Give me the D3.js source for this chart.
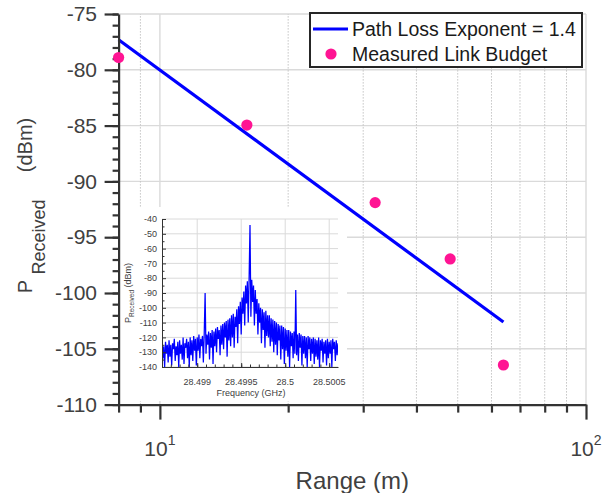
<!DOCTYPE html>
<html>
<head>
<meta charset="utf-8">
<script src="https://cdn.jsdelivr.net/npm/d3@7"></script>
<style>
  body { margin: 0; background: #fff; }
  text { font-family: "Liberation Sans", Arial, sans-serif; }
</style>
</head>
<body>
<div id="container"></div>
<script>
/* DATA */
const range = [8, 16, 32, 48, 64];                       // m
const measured = [-78.9, -84.95, -91.9, -96.95, -106.45]; // dBm
const fitRange = [8, 64];
const fitPower = [-77.3, -102.6];
const yTicks = [-110, -105, -100, -95, -90, -85, -80, -75];
const xTicks = [10, 100];
const xTickExp = ["1", "2"];
const xMinor = [8, 9, 20, 30, 40, 50, 60, 70, 80, 90];

// inset: spectrum around the carrier, one value per 10 kHz bin
const freqStart = 28.4986;
const freqStep = 0.00001;
const spectrum = [
  -124,-134,-126,-140,-123,-131,-125,-137,-122,-133,
  -125,-139,-124,-128,-121,-136,-126,-132,-123,-140,
  -122,-131,-125,-135,-120,-138,-124,-127,-121,-134,
  -123,-140,-120,-132,-122,-136,-119,-129,-121,-139,
  -120,-129,-118,-134,-121,-126,-119,-137,-117,-90,
  -131,-118,-125,-116,-135,-117,-127,-115,-138,-116,
  -126,-114,-130,-113,-121,-115,-132,-112,-125,-111,
  -128,-110,-120,-109,-133,-108,-122,-107,-126,-105,
  -120,-104,-127,-106,-113,-101,-124,-99,-111,-96,
  -118,-93,-104,-89,-112,-85,-97,-82,-110,-80,
  -44,
  -106,-81,-96,-85,-112,-88,-104,-94,-118,-97,
  -110,-100,-124,-101,-115,-103,-127,-102,-119,-105,
  -120,-105,-126,-107,-123,-108,-130,-109,-125,-110,
  -132,-111,-122,-112,-135,-112,-128,-113,-138,-114,
  -129,-115,-133,-115,-140,-116,-126,-117,-134,-116,
  -131,-88,-132,-118,-136,-117,-127,-118,-139,-119,
  -131,-119,-134,-120,-140,-119,-128,-120,-136,-121,
  -131,-120,-138,-121,-133,-122,-135,-120,-140,-122,
  -129,-121,-137,-123,-131,-122,-139,-121,-134,-123,
  -131,-122,-140,-121,-128,-123,-136,-122,-132,-124
];
const insetXTicks = [28.499, 28.4995, 28.5, 28.5005];
const insetYTicks = [-140, -130, -120, -110, -100, -90, -80, -70, -60, -50, -40];

/* CONSTANTS */
const width = 613, height = 493;
const axisColor = "#333", labelColor = "#404040", gridColor = "#dadada";

const svg = d3.select("#container")
  .append("svg")
  .attr("width", width)
  .attr("height", height);

/* SCALES */
const xScale = d3.scaleLog().domain([8, 100]).range([118.6, 586]);
const yScale = d3.scaleLinear().domain([-110, -75]).range([404.6, 14]);

// grid
svg.append("g")
  .selectAll("line")
  .data(yTicks)
  .join("line")
  .attr("x1", xScale.range()[0]).attr("x2", xScale.range()[1])
  .attr("y1", d => yScale(d)).attr("y2", d => yScale(d))
  .attr("stroke", gridColor).attr("stroke-width", 1.4);

svg.append("g")
  .selectAll("line")
  .data(xMinor.filter(d => d > 8))
  .join("line")
  .attr("x1", d => xScale(d)).attr("x2", d => xScale(d))
  .attr("y1", yScale.range()[0]).attr("y2", yScale.range()[1])
  .attr("stroke", "#c4c4c4").attr("stroke-width", 1)
  .attr("stroke-dasharray", "1.5,1.5");

svg.append("g")
  .selectAll("line")
  .data(xTicks)
  .join("line")
  .attr("x1", d => xScale(d)).attr("x2", d => xScale(d))
  .attr("y1", yScale.range()[0]).attr("y2", yScale.range()[1])
  .attr("stroke", gridColor).attr("stroke-width", 1.4);

/* INSET */
const ixScale = d3.scaleLinear().domain([28.4986, 28.5006]).range([162, 338]);
const iyScale = d3.scaleLinear().domain([-140, -40]).range([367, 219]);
const inset = svg.append("g");

inset.append("rect")
  .attr("x", 120).attr("y", 207).attr("width", 227).attr("height", 194)
  .attr("fill", "#fff");

inset.append("g")
  .selectAll("line")
  .data(insetYTicks)
  .join("line")
  .attr("x1", 162).attr("x2", 338)
  .attr("y1", d => iyScale(d)).attr("y2", d => iyScale(d))
  .attr("stroke", gridColor).attr("stroke-width", 1);

inset.append("g")
  .selectAll("line")
  .data(insetXTicks)
  .join("line")
  .attr("x1", d => ixScale(d)).attr("x2", d => ixScale(d))
  .attr("y1", 219).attr("y2", 367)
  .attr("stroke", gridColor).attr("stroke-width", 1);

inset.append("clipPath").attr("id", "insetClip")
  .append("rect").attr("x", 162).attr("y", 219).attr("width", 176).attr("height", 148);

inset.append("path")
  .datum(spectrum)
  .attr("clip-path", "url(#insetClip)")
  .attr("d", d3.line()
    .x((d, i) => ixScale(freqStart + i * freqStep))
    .y(d => iyScale(d)))
  .attr("fill", "none")
  .attr("stroke", "#0000ff")
  .attr("stroke-width", 1.25);

// inset axes, ticks inward
const ixMinor = d3.range(28.4987, 28.50055, 0.0001);
const iyMinor = d3.range(-135, -40, 10);

inset.append("g")
  .attr("transform", "translate(0,367)")
  .call(d3.axisTop(ixScale).tickValues(insetXTicks).tickSize(4).tickSizeOuter(0).tickFormat(""));
inset.append("g")
  .attr("transform", "translate(0,367)")
  .call(d3.axisTop(ixScale).tickValues(ixMinor).tickSize(2.5).tickSizeOuter(0).tickFormat(""))
  .call(g => g.select(".domain").remove());
inset.append("g")
  .attr("transform", "translate(162,0)")
  .call(d3.axisRight(iyScale).tickValues(insetYTicks).tickSize(4).tickSizeOuter(0).tickFormat(""));
inset.append("g")
  .attr("transform", "translate(162,0)")
  .call(d3.axisRight(iyScale).tickValues(iyMinor).tickSize(2.5).tickSizeOuter(0).tickFormat(""))
  .call(g => g.select(".domain").remove());
inset.selectAll(".domain, .tick line").attr("stroke", axisColor);

inset.append("g")
  .selectAll("text")
  .data(insetXTicks)
  .join("text")
  .attr("x", d => ixScale(d)).attr("y", 385)
  .attr("text-anchor", "middle")
  .attr("font-size", 9).attr("fill", labelColor)
  .text(d => d);

inset.append("g")
  .selectAll("text")
  .data(insetYTicks)
  .join("text")
  .attr("x", 157).attr("y", d => iyScale(d) + 3.2)
  .attr("text-anchor", "end")
  .attr("font-size", 9).attr("fill", labelColor)
  .text(d => d);

inset.append("text")
  .attr("x", 251).attr("y", 396)
  .attr("text-anchor", "middle")
  .attr("font-size", 9).attr("fill", labelColor)
  .text("Frequency (GHz)");

const insetYLabel = inset.append("text")
  .attr("transform", "translate(131,293) rotate(-90)")
  .attr("text-anchor", "middle")
  .attr("font-size", 9).attr("fill", labelColor);
insetYLabel.append("tspan").text("P");
insetYLabel.append("tspan").attr("dy", 3).attr("font-size", 6.5).text("Received");
insetYLabel.append("tspan").attr("dy", -3).text(" (dBm)");

// fitted line
svg.append("path")
  .datum(fitRange.map((r, i) => [r, fitPower[i]]))
  .attr("d", d3.line().x(d => xScale(d[0])).y(d => yScale(d[1])))
  .attr("fill", "none")
  .attr("stroke", "#0000ff")
  .attr("stroke-width", 3.2);

/* MAIN AXES */
const mainAxes = svg.append("g");
const yAxis = mainAxes.append("g")
  .attr("transform", `translate(${xScale.range()[0]},0)`)
  .call(d3.axisLeft(yScale).tickValues(yTicks).tickSize(14).tickSizeOuter(0).tickPadding(7.6)
    .tickFormat(d => String(d)));
mainAxes.append("g")
  .attr("transform", `translate(${xScale.range()[0]},0)`)
  .call(d3.axisLeft(yScale).tickValues(d3.range(-110, -74, 1)).tickSize(6).tickSizeOuter(0).tickFormat(""))
  .call(g => g.select(".domain").remove());
yAxis.selectAll("text")
  .attr("font-size", 21).attr("fill", labelColor)
  .attr("font-family", "'Liberation Sans', Arial, sans-serif");

mainAxes.append("g")
  .attr("transform", `translate(0,${yScale.range()[0]})`)
  .call(d3.axisBottom(xScale).tickValues(xTicks).tickSize(15).tickSizeOuter(0).tickFormat(""));
mainAxes.append("g")
  .attr("transform", `translate(0,${yScale.range()[0]})`)
  .call(d3.axisBottom(xScale).tickValues(xMinor).tickSize(8).tickSizeOuter(0).tickFormat(""))
  .call(g => g.select(".domain").remove());

mainAxes.selectAll(".domain, .tick line")
  .attr("stroke", axisColor).attr("stroke-width", 2.2);

// x tick labels 10^n
const xLabels = svg.append("g")
  .selectAll("text")
  .data(xTicks)
  .join("text")
  .attr("x", d => xScale(d)).attr("y", 456)
  .attr("text-anchor", "middle")
  .attr("font-size", 21).attr("fill", labelColor);
xLabels.append("tspan").text("10");
xLabels.append("tspan").attr("dy", -11).attr("font-size", 14).text((d, i) => xTickExp[i]);

// axis labels
svg.append("text")
  .attr("x", 352.3).attr("y", 489)
  .attr("text-anchor", "middle")
  .attr("font-size", 24).attr("fill", labelColor)
  .text("Range (m)");

svg.append("text")
  .attr("transform", "translate(32,286.5) rotate(-90)")
  .attr("text-anchor", "middle")
  .attr("font-size", 20).attr("fill", labelColor)
  .text("P");
svg.append("text")
  .attr("transform", "translate(45,237) rotate(-90)")
  .attr("text-anchor", "middle")
  .attr("font-size", 18).attr("fill", labelColor)
  .text("Received");
svg.append("text")
  .attr("transform", "translate(32,145) rotate(-90)")
  .attr("text-anchor", "middle")
  .attr("font-size", 20).attr("fill", labelColor)
  .text("(dBm)");

// measured points
svg.append("g")
  .selectAll("circle")
  .data(range.map((r, i) => [r, measured[i]]))
  .join("circle")
  .attr("cx", d => xScale(d[0]))
  .attr("cy", d => yScale(d[1]))
  .attr("r", 5.6)
  .attr("fill", "#ff1493");

/* LEGEND */
const legend = svg.append("g");
legend.append("rect")
  .attr("x", 310).attr("y", 13).attr("width", 272).attr("height", 54)
  .attr("fill", "#fff").attr("stroke", "#262626").attr("stroke-width", 2);
legend.append("line")
  .attr("x1", 313).attr("x2", 348).attr("y1", 29).attr("y2", 29)
  .attr("stroke", "#0000ff").attr("stroke-width", 3.2);
legend.append("circle")
  .attr("cx", 331).attr("cy", 54).attr("r", 5.6)
  .attr("fill", "#ff1493");
legend.append("text")
  .attr("x", 352).attr("y", 36)
  .attr("font-size", 19.5).attr("fill", "#1a1a1a")
  .text("Path Loss Exponent = 1.4");
legend.append("text")
  .attr("x", 352).attr("y", 61)
  .attr("font-size", 19.5).attr("fill", "#1a1a1a")
  .text("Measured Link Budget");
</script>
</body>
</html>
